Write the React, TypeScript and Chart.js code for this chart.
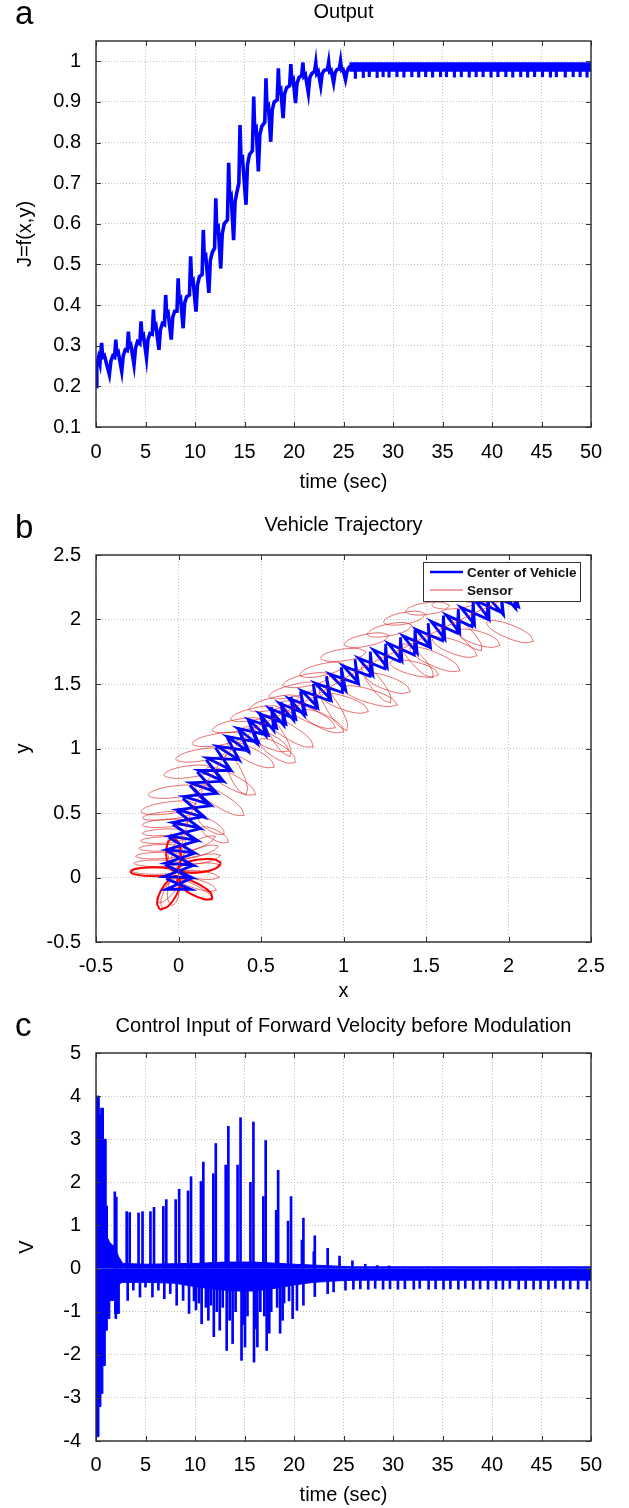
import React, { useEffect, useRef } from 'react';
import { Chart, registerables } from 'chart.js';

Chart.register(...registerables);

const FONT = '"Liberation Sans", Arial, Helvetica, sans-serif';
const BLUE = '#0000ff';

// ================= Panel a : Output =================
const aTime = [
  0, 0.08, 0.25, 0.4, 0.57,
  0.67, 0.85, 1.35, 1.5, 1.7, 1.88, 2.0,
  2.1, 2.25, 2.6, 2.75, 2.95, 3.15, 3.27,
  3.37, 3.52, 3.84, 3.99, 4.19, 4.43, 4.55,
  4.65, 4.8, 5.1, 5.25, 5.45, 5.68, 5.8,
  5.9, 6.05, 6.36, 6.51, 6.71, 6.92, 7.04,
  7.14, 7.29, 7.6, 7.75, 7.95, 8.18, 8.3,
  8.4, 8.55, 8.8, 8.95, 9.15, 9.44, 9.56,
  9.66, 9.81, 10.1, 10.25, 10.45, 10.72, 10.84,
  10.94, 11.09, 11.4, 11.55, 11.75, 11.98, 12.1,
  12.2, 12.35, 12.6, 12.75, 12.95, 13.28, 13.4,
  13.5, 13.65, 13.9, 14.05, 14.25, 14.43, 14.55,
  14.65, 14.8, 15.15, 15.3, 15.5, 15.8, 15.93,
  16.03, 16.18, 16.4, 16.55, 16.75, 17.05, 17.17,
  17.27, 17.42, 17.65, 17.8, 18.0, 18.3, 18.42,
  18.52, 18.67, 18.9, 19.05, 19.25, 19.56, 19.68,
  19.78, 19.93, 20.15, 20.3, 20.5, 20.78, 20.9,
  21.0, 21.15, 21.45, 21.6, 21.8, 22.08, 22.2,
  22.3, 22.45, 22.7, 22.85, 23.05, 23.38, 23.5,
  23.6, 23.75, 24.0, 24.15, 24.35, 24.58, 24.7,
  24.8, 24.95, 25.2, 25.35, 25.55, 25.8,
];
const aValue = [
  0.2, 0.25, 0.27, 0.255, 0.307,
  0.272, 0.276, 0.229, 0.262, 0.275, 0.272, 0.315,
  0.28, 0.284, 0.237, 0.275, 0.29, 0.288, 0.335,
  0.298, 0.302, 0.253, 0.294, 0.31, 0.305, 0.36,
  0.32, 0.325, 0.27, 0.315, 0.33, 0.328, 0.389,
  0.345, 0.35, 0.29, 0.34, 0.355, 0.352, 0.425,
  0.375, 0.38, 0.315, 0.37, 0.385, 0.385, 0.466,
  0.41, 0.415, 0.343, 0.405, 0.42, 0.425, 0.52,
  0.455, 0.46, 0.384, 0.45, 0.47, 0.475, 0.585,
  0.515, 0.52, 0.43, 0.51, 0.53, 0.54, 0.663,
  0.585, 0.59, 0.49, 0.575, 0.6, 0.61, 0.75,
  0.665, 0.67, 0.56, 0.655, 0.68, 0.7, 0.843,
  0.755, 0.76, 0.647, 0.745, 0.77, 0.78, 0.913,
  0.83, 0.835, 0.729, 0.82, 0.84, 0.85, 0.958,
  0.885, 0.89, 0.802, 0.88, 0.9, 0.905, 0.983,
  0.925, 0.93, 0.86, 0.92, 0.935, 0.94, 0.993,
  0.95, 0.955, 0.897, 0.945, 0.96, 0.965, 0.997,
  0.963, 0.967, 0.922, 0.96, 0.97, 0.975, 0.996,
  0.97, 0.975, 0.94, 0.97, 0.978, 0.98, 0.998,
  0.975, 0.978, 0.947, 0.972, 0.98, 0.982, 1.0,
  0.978, 0.98, 0.955, 0.975, 0.985, 0.99,
];
// steady-state band (upper / lower envelope) and its periodic dips
const aBandTime = [25.6, 50];
const aBandHigh = [0.996, 0.996];
const aBandLow = [0.976, 0.976];
const aDipTime = [
  26.2, 27.0, 27.6, 28.4, 29.0, 29.6, 30.4, 31.1, 31.9, 32.6,
  33.3, 34.0, 34.8, 35.4, 36.2, 36.9, 37.7, 38.4, 39.1, 39.9,
  40.6, 41.4, 42.1, 42.9, 43.6, 44.3, 45.1, 45.9, 46.5, 47.4,
  48.2, 48.9, 49.6,
];
const aDipValue = [
  0.958, 0.96, 0.962, 0.96, 0.962, 0.961, 0.962, 0.961, 0.962, 0.961,
  0.962, 0.961, 0.962, 0.962, 0.961, 0.962, 0.961, 0.962, 0.962, 0.961,
  0.962, 0.962, 0.961, 0.962, 0.961, 0.962, 0.962, 0.961, 0.962, 0.961,
  0.962, 0.962, 0.961,
];
const aXTicks = [0, 5, 10, 15, 20, 25, 30, 35, 40, 45, 50];
const aYTicks = [0.1, 0.2, 0.3, 0.4, 0.5, 0.6, 0.7, 0.8, 0.9, 1];

// ================= Panel b : Vehicle Trajectory =================
// centre-of-vehicle path (centre line and half-width of its star-shaped wiggle)
const bPathX = [0.0, 0.0, 0.01, 0.02, 0.04, 0.06, 0.09, 0.13, 0.17, 0.22, 0.27, 0.33, 0.39, 0.45, 0.51, 0.57, 0.63, 0.69, 0.75, 0.83, 0.91, 1.0, 1.08, 1.17, 1.26, 1.35, 1.44, 1.52, 1.61, 1.7, 1.79, 1.88, 1.96, 2.03];
const bPathY = [-0.05, 0.05, 0.15, 0.25, 0.35, 0.45, 0.54, 0.64, 0.74, 0.83, 0.92, 1.0, 1.07, 1.13, 1.19, 1.23, 1.27, 1.31, 1.35, 1.41, 1.47, 1.54, 1.6, 1.66, 1.72, 1.77, 1.83, 1.88, 1.94, 1.99, 2.05, 2.1, 2.15, 2.2];
const bPathHalf = [0.075, 0.085, 0.085, 0.085, 0.085, 0.085, 0.085, 0.085, 0.085, 0.085, 0.085, 0.085, 0.085, 0.085, 0.08, 0.08, 0.08, 0.08, 0.08, 0.08, 0.08, 0.08, 0.08, 0.08, 0.08, 0.08, 0.08, 0.08, 0.08, 0.08, 0.08, 0.085, 0.1, 0.1];

// sensor loops: centre, half-length, half-width, tilt (deg)
const sLoopX = [
  -0.14, -0.13, -0.12, -0.11, -0.10, -0.09, -0.08, -0.07,
  0.12, 0.13, 0.13, 0.13, 0.12, 0.11, 0.10, 0.20, 0.22,
  -0.05, -0.03, -0.06, -0.03, 0.0,
  -0.06, -0.02, 0.06, 0.14, 0.24, 0.36, 0.47, 0.58, 0.70, 0.78, 0.87, 1.0, 1.14, 1.28, 1.37, 1.51, 1.68, 1.85, 2.0,
  0.25, 0.32, 0.44, 0.53, 0.60, 0.67, 0.79, 0.875, 1.01, 1.16, 1.27, 1.43, 1.555, 1.675, 1.82, 2.01,
  0.35, 0.6, 0.94, 1.2, 1.45, 1.75,
];
const sLoopY = [
  0.05, 0.11, 0.17, 0.23, 0.29, 0.35, 0.42, 0.48,
  0.26, 0.2, 0.14, 0.08, 0.02, -0.05, -0.1, 0.4, 0.33,
  -0.12, -0.1, -0.1, 0.2, 0.2,
  0.54, 0.665, 0.82, 0.95, 1.07, 1.18, 1.27, 1.35, 1.45, 1.53, 1.61, 1.725, 1.84, 1.92, 2.01, 2.085, 2.13, 2.175, 2.2,
  0.6, 0.745, 0.95, 1.07, 0.98, 1.13, 1.26, 1.21, 1.35, 1.405, 1.505, 1.62, 1.69, 1.785, 1.855, 1.905,
  0.8, 1.1, 1.31, 1.5, 1.68, 1.88,
];
const sLoopA = [
  0.14, 0.14, 0.14, 0.13, 0.13, 0.13, 0.14, 0.15,
  0.12, 0.12, 0.13, 0.13, 0.13, 0.13, 0.13, 0.1, 0.1,
  0.13, 0.12, 0.12, 0.14, 0.13,
  0.17, 0.165, 0.15, 0.16, 0.16, 0.16, 0.16, 0.16, 0.16, 0.15, 0.14, 0.14, 0.14, 0.14, 0.13, 0.135, 0.145, 0.14, 0.14,
  0.19, 0.18, 0.17, 0.165, 0.14, 0.19, 0.19, 0.15, 0.155, 0.18, 0.15, 0.155, 0.175, 0.15, 0.14, 0.16,
  0.17, 0.18, 0.19, 0.17, 0.16, 0.15,
];
const sLoopB = [
  0.025, 0.025, 0.025, 0.025, 0.025, 0.025, 0.03, 0.03,
  0.03, 0.03, 0.03, 0.03, 0.03, 0.035, 0.035, 0.035, 0.035,
  0.04, 0.035, 0.035, 0.035, 0.035,
  0.045, 0.045, 0.045, 0.045, 0.045, 0.045, 0.045, 0.045, 0.045, 0.045, 0.045, 0.045, 0.045, 0.045, 0.045, 0.045, 0.045, 0.045, 0.045,
  0.05, 0.05, 0.05, 0.05, 0.05, 0.05, 0.05, 0.05, 0.05, 0.05, 0.05, 0.05, 0.05, 0.05, 0.05, 0.05,
  0.04, 0.04, 0.04, 0.04, 0.04, 0.04,
];
const sLoopAng = [
  0, 0, 2, 2, 3, 4, 5, 7,
  30, 22, 14, 5, -8, -22, -35, -40, -35,
  -110, -95, -125, 95, 80,
  10, 9, 10, 12, 12, 14, 16, 18, 18, 15, 17, 10, 15, 15, 14, 10, 8, 5, 5,
  -39, -35, -34, -33, -40, -39, -32, -33, -24, -22, -26, -18, -30, -26, -23, -28,
  -70, -65, -65, -60, -55, -55,
];
// the heavily over-drawn petals near the start point
const fLoopX = [-0.15, 0.13, 0.1, -0.06, -0.03];
const fLoopY = [0.045, 0.09, -0.09, -0.12, 0.18];
const fLoopA = [0.14, 0.13, 0.13, 0.14, 0.13];
const fLoopB = [0.035, 0.05, 0.045, 0.05, 0.045];
const fLoopAng = [0, 10, -35, -112, 92];
const bTicks = [-0.5, 0, 0.5, 1, 1.5, 2, 2.5];

// ================= Panel c : Control input =================
const cHighTime = [0, 0.3, 0.3, 0.47, 0.47, 0.74, 0.74, 1.0, 1.0, 1.15, 1.15, 1.4, 1.9, 2.3, 2.7, 5, 10, 13, 16, 20, 24, 26, 50];
const cHighValue = [4.0, 4.0, 3.57, 3.57, 3.72, 3.72, 3.0, 3.0, 1.45, 1.45, 0.72, 0.6, 0.5, 0.27, 0.12, 0.1, 0.12, 0.15, 0.15, 0.1, 0.06, 0.04, 0.04];
const cLowTime = [0, 0.3, 0.3, 0.5, 0.5, 0.7, 0.7, 0.94, 0.94, 1.15, 1.15, 1.4, 1.4, 1.9, 1.9, 2.35, 2.35, 2.7, 5, 8, 10, 12, 14, 16, 18, 20, 22, 24, 26, 50];
const cLowValue = [-3.9, -3.9, -3.2, -3.2, -2.9, -2.9, -2.25, -2.25, -1.43, -1.43, -1.16, -1.16, -0.74, -0.74, -1.04, -1.04, -0.35, -0.32, -0.32, -0.34, -0.42, -0.48, -0.52, -0.52, -0.46, -0.38, -0.32, -0.29, -0.27, -0.27];
const cPosTime = [
  1.9, 2.05, 3.1, 3.4, 4.3, 4.7, 5.5, 5.86, 6.8, 7.1,
  8.05, 8.4, 9.3, 9.6, 10.6, 10.84, 11.85, 12.1, 13.1, 13.37,
  14.3, 14.6, 15.6, 15.9, 16.9, 17.14, 18.2, 18.4, 19.4, 19.7,
  20.8, 20.95, 22.0, 22.1, 23.4, 24.6, 25.9, 27.2, 28.4, 29.6,
];
const cPosValue = [
  1.78, 1.66, 1.32, 1.3, 1.29, 1.32, 1.32, 1.42, 1.44, 1.6,
  1.6, 1.84, 1.8, 2.13, 2.02, 2.47, 2.2, 2.9, 2.4, 3.3,
  2.4, 3.5, 2.0, 3.4, 1.67, 2.97, 1.35, 2.28, 1.1, 1.67,
  0.66, 1.17, 0.39, 0.76, 0.47, 0.29, 0.18, 0.1, 0.07, 0.06,
];
const cNegTime = [
  2.0, 2.25, 3.2, 3.77, 4.44, 5.0, 5.7, 6.3, 6.9, 7.5,
  8.15, 8.8, 9.4, 9.9, 10.1, 10.4, 10.67, 11.1, 11.35, 11.6,
  11.9, 12.2, 12.5, 12.8, 13.2, 13.5, 13.8, 14.1, 14.7, 14.9,
  15.05, 15.3, 15.96, 16.1, 16.3, 16.6, 17.0, 17.24, 17.5, 17.7,
  18.3, 18.6, 18.85, 19.0, 19.5, 19.86, 20.3, 20.95, 22.1, 23.4,
  24.0,
];
const cNegValue = [
  -1.16, -1.04, -0.74, -0.5, -0.66, -0.43, -0.66, -0.5, -0.7, -0.58,
  -0.85, -0.74, -1.04, -0.75, -0.96, -0.8, -1.28, -0.9, -1.2, -0.85,
  -1.58, -1.0, -1.43, -0.9, -1.9, -1.2, -1.74, -1.0, -2.13, -1.3,
  -1.82, -1.1, -2.17, -1.4, -1.82, -1.0, -1.1, -1.9, -1.5, -1.0,
  -0.9, -1.5, -1.2, -0.8, -0.75, -1.16, -0.97, -0.85, -0.65, -0.58,
  -0.54,
];
const cDipTime = [
  25.2, 26.0, 26.7, 27.5, 28.2, 29.0, 29.7, 30.5, 31.2, 32.1,
  32.7, 33.6, 34.3, 35.1, 35.8, 36.6, 37.3, 38.1, 38.8, 39.6,
  40.4, 41.1, 41.8, 42.7, 43.4, 44.2, 44.9, 45.7, 46.4, 47.2,
  47.9, 48.7, 49.6,
];
const cDipValue = [
  -0.5, -0.48, -0.47, -0.48, -0.46, -0.48, -0.47, -0.48, -0.47, -0.48,
  -0.46, -0.48, -0.47, -0.48, -0.47, -0.48, -0.46, -0.48, -0.47, -0.48,
  -0.47, -0.48, -0.46, -0.48, -0.47, -0.48, -0.47, -0.48, -0.46, -0.48,
  -0.47, -0.48, -0.47,
];
const cXTicks = [0, 5, 10, 15, 20, 25, 30, 35, 40, 45, 50];
const cYTicks = [-4, -3, -2, -1, 0, 1, 2, 3, 4, 5];

// ================= helpers =================
const fmt = (v: number) => String(Math.round(v * 100) / 100);
const pts = (xs: number[], ys: number[]) => xs.map((x, i) => ({ x, y: ys[i] }));

// star-like wiggle of the vehicle centre around its read centre line
function starPath(cx: number[], cy: number[], half: number[]) {
  const n = cx.length;
  const out: { x: number; y: number }[] = [];
  for (let i = 0; i < n; i++) {
    const i0 = Math.max(0, i - 1);
    const i1 = Math.min(n - 1, i + 1);
    const dx = cx[i1] - cx[i0];
    const dy = cy[i1] - cy[i0];
    const L = Math.hypot(dx, dy) || 1;
    const tx = dx / L, ty = dy / L;
    const nx = -ty, ny = tx;
    const h = half[i];
    const s = 0.55 * h;
    out.push(
      { x: cx[i] + nx * h + tx * s, y: cy[i] + ny * h + ty * s },
      { x: cx[i] - nx * h - tx * s, y: cy[i] - ny * h - ty * s },
      { x: cx[i] + nx * h - tx * s, y: cy[i] + ny * h - ty * s },
      { x: cx[i] - nx * h + tx * s, y: cy[i] - ny * h + ty * s },
    );
  }
  return out;
}

// closed elliptic loop (8 nodes, smoothed by the line tension)
const C45 = Math.SQRT1_2;
const UNIT = [[1, 0], [C45, C45], [0, 1], [-C45, C45], [-1, 0], [-C45, -C45], [0, -1], [C45, -C45], [1, 0]];
function loop(cx: number, cy: number, a: number, b: number, angDeg: number) {
  const r = (angDeg * Math.PI) / 180;
  const ux = Math.cos(r), uy = Math.sin(r);
  return UNIT.map(([p, q]) => ({ x: cx + ux * a * p - uy * b * q, y: cy + uy * a * p + ux * b * q }));
}

type Spec = {
  xMin: number; xMax: number; xTicks: number[];
  yMin: number; yMax: number; yTicks: number[];
  xTitle: string; yTitle: string;
  plotTop: number; xAxisH: number; xTickPad: number; xTitlePadBottom: number; yTitlePadTop: number;
};

function axis(p: Spec, which: 'x' | 'y'): any {
  const isX = which === 'x';
  const ticks = isX ? p.xTicks : p.yTicks;
  return {
    type: 'linear',
    min: isX ? p.xMin : p.yMin,
    max: isX ? p.xMax : p.yMax,
    offset: false,
    grid: { color: '#c2c2c2', lineWidth: 1, drawTicks: false, offset: false },
    border: { display: false, dash: [1, 2] },
    afterBuildTicks: (s: any) => { s.ticks = ticks.map((v) => ({ value: v })); },
    afterFit: (s: any) => { if (isX) s.height = p.xAxisH; else s.width = 96; },
    ticks: {
      padding: isX ? p.xTickPad : 15,
      color: '#000',
      font: { family: FONT, size: 20 },
      maxRotation: 0,
      autoSkip: false,
      callback: (v: any) => fmt(Number(v)),
    },
    title: {
      display: true,
      text: isX ? p.xTitle : p.yTitle,
      color: '#000',
      font: { family: FONT, size: 20 },
      padding: isX ? { top: 0, bottom: p.xTitlePadBottom } : { top: p.yTitlePadTop, bottom: 0 },
    },
  };
}

function options(p: Spec): any {
  return {
    responsive: false,
    maintainAspectRatio: false,
    animation: false,
    devicePixelRatio: 1,
    events: [],
    layout: { padding: { top: p.plotTop, right: 38, bottom: 0, left: 0 } },
    plugins: { legend: { display: false }, tooltip: { enabled: false }, title: { display: false } },
    scales: { x: axis(p, 'x'), y: axis(p, 'y') },
  };
}

function framePlugin(title: string, titleOffset: number) {
  return {
    id: 'frameAndTitle',
    afterDraw(chart: any) {
      const { ctx, chartArea: ca, scales } = chart;
      ctx.save();
      ctx.strokeStyle = '#333';
      ctx.lineWidth = 1;
      ctx.beginPath();
      scales.x.ticks.forEach((t: any) => {
        const px = Math.round(scales.x.getPixelForValue(t.value)) + 0.5;
        ctx.moveTo(px, ca.bottom); ctx.lineTo(px, ca.bottom - 5);
        ctx.moveTo(px, ca.top); ctx.lineTo(px, ca.top + 5);
      });
      scales.y.ticks.forEach((t: any) => {
        const py = Math.round(scales.y.getPixelForValue(t.value)) + 0.5;
        ctx.moveTo(ca.left, py); ctx.lineTo(ca.left + 5, py);
        ctx.moveTo(ca.right, py); ctx.lineTo(ca.right - 5, py);
      });
      ctx.stroke();
      ctx.lineWidth = 1.4;
      ctx.strokeStyle = '#2a2a2a';
      ctx.strokeRect(ca.left, ca.top, ca.right - ca.left, ca.bottom - ca.top);
      ctx.fillStyle = '#000';
      ctx.font = `20px ${FONT}`;
      ctx.textAlign = 'center';
      ctx.textBaseline = 'middle';
      ctx.fillText(title, (ca.left + ca.right) / 2, ca.top - titleOffset);
      ctx.restore();
    },
  };
}

const legendPlugin = {
  id: 'boxLegend',
  afterDraw(chart: any) {
    const { ctx, chartArea: ca } = chart;
    const w = 157;
    const h = 39;
    const x0 = ca.right - 11 - w;
    const y0 = ca.top + 7;
    ctx.save();
    ctx.fillStyle = '#fff';
    ctx.fillRect(x0, y0, w, h);
    ctx.strokeStyle = '#333';
    ctx.lineWidth = 1;
    ctx.strokeRect(x0 + 0.5, y0 + 0.5, w, h);
    ctx.lineWidth = 2.5;
    ctx.strokeStyle = BLUE;
    ctx.beginPath(); ctx.moveTo(x0 + 7, y0 + 10); ctx.lineTo(x0 + 40, y0 + 10); ctx.stroke();
    ctx.lineWidth = 1;
    ctx.strokeStyle = 'rgba(220,30,30,0.85)';
    ctx.beginPath(); ctx.moveTo(x0 + 7, y0 + 28); ctx.lineTo(x0 + 40, y0 + 28); ctx.stroke();
    ctx.fillStyle = '#111';
    ctx.font = `bold 13.5px ${FONT}`;
    ctx.textAlign = 'left';
    ctx.textBaseline = 'middle';
    ctx.fillText('Center of Vehicle', x0 + 44, y0 + 11);
    ctx.fillText('Sensor', x0 + 44, y0 + 29);
    ctx.restore();
  },
};

function configA(): any {
  const spec: Spec = {
    xMin: 0, xMax: 50, xTicks: aXTicks, yMin: 0.1, yMax: 1.05, yTicks: aYTicks,
    xTitle: 'time (sec)', yTitle: 'J=f(x,y)',
    plotTop: 41, xAxisH: 73, xTickPad: 13.5, xTitlePadBottom: 5.5, yTitlePadTop: 13,
  };
  return {
    type: 'line',
    data: {
      datasets: [
        { type: 'line', label: 'J', data: pts(aTime, aValue), borderColor: BLUE, borderWidth: 3.6, pointRadius: 0, tension: 0, fill: false },
        { type: 'line', label: 'band high', data: pts(aBandTime, aBandHigh), borderColor: BLUE, backgroundColor: BLUE, borderWidth: 1.5, pointRadius: 0, fill: { value: 0.986 } },
        { type: 'line', label: 'band low', data: pts(aBandTime, aBandLow), borderColor: BLUE, backgroundColor: BLUE, borderWidth: 1.5, pointRadius: 0, fill: { value: 0.986 } },
        { type: 'bar', label: 'dips', data: aDipTime.map((t, i) => ({ x: t, y: [0.978, aDipValue[i]] })), backgroundColor: BLUE, borderWidth: 0, barThickness: 2.5, grouped: false },
      ],
    },
    options: options(spec),
    plugins: [framePlugin('Output', 28.3)],
  };
}

function configB(): any {
  const spec: Spec = {
    xMin: -0.5, xMax: 2.5, xTicks: bTicks, yMin: -0.5, yMax: 2.5, yTicks: bTicks,
    xTitle: 'x', yTitle: 'y',
    plotTop: 55, xAxisH: 58, xTickPad: 12.7, xTitlePadBottom: -3, yTitlePadTop: 11,
  };
  const thin = 'rgba(220,30,30,0.8)';
  const datasets: any[] = [
    { label: 'Sensor track', data: pts(bPathX, bPathY), borderColor: thin, borderWidth: 0.8, pointRadius: 0, fill: false },
    { label: 'Center of Vehicle', data: starPath(bPathX, bPathY, bPathHalf), borderColor: BLUE, borderWidth: 2.8, pointRadius: 0, tension: 0, fill: false },
  ];
  fLoopX.forEach((x, i) => {
    datasets.push({ label: 'Sensor', data: loop(x, fLoopY[i], fLoopA[i], fLoopB[i], fLoopAng[i]), borderColor: '#ff0000', borderWidth: 2, pointRadius: 0, tension: 0.38, fill: false });
  });
  sLoopX.forEach((x, i) => {
    datasets.push({ label: 'Sensor', data: loop(x, sLoopY[i], sLoopA[i], sLoopB[i], sLoopAng[i]), borderColor: thin, borderWidth: 0.8, pointRadius: 0, tension: 0.38, fill: false });
  });
  return {
    type: 'line',
    data: { datasets },
    options: options(spec),
    plugins: [framePlugin('Vehicle Trajectory', 29.3), legendPlugin],
  };
}

function configC(): any {
  const spec: Spec = {
    xMin: 0, xMax: 50, xTicks: cXTicks, yMin: -4, yMax: 5, yTicks: cYTicks,
    xTitle: 'time (sec)', yTitle: 'V',
    plotTop: 53, xAxisH: 67, xTickPad: 12, xTitlePadBottom: 1, yTitlePadTop: 15,
  };
  const bar = (t: number[], v: number[], label: string) => ({
    type: 'bar', label, data: t.map((x, i) => ({ x, y: [0, v[i]] })), backgroundColor: BLUE, borderWidth: 0, barThickness: 2, grouped: false,
  });
  return {
    type: 'line',
    data: {
      datasets: [
        { type: 'line', label: 'high', data: pts(cHighTime, cHighValue), borderColor: BLUE, backgroundColor: BLUE, borderWidth: 1, pointRadius: 0, fill: 'origin' },
        { type: 'line', label: 'low', data: pts(cLowTime, cLowValue), borderColor: BLUE, backgroundColor: BLUE, borderWidth: 1, pointRadius: 0, fill: 'origin' },
        bar(cPosTime, cPosValue, 'pos'),
        bar(cNegTime, cNegValue, 'neg'),
        bar(cDipTime, cDipValue, 'dip'),
      ],
    },
    options: options(spec),
    plugins: [framePlugin('Control Input of Forward Velocity before Modulation', 26.3)],
  };
}

const letterStyle = (top: number): React.CSSProperties => ({
  position: 'absolute', left: 15, top, fontFamily: FONT, fontSize: 33, lineHeight: '33px', color: '#000', margin: 0,
});

export default function App() {
  const refA = useRef<HTMLCanvasElement>(null);
  const refB = useRef<HTMLCanvasElement>(null);
  const refC = useRef<HTMLCanvasElement>(null);

  useEffect(() => {
    const charts = [
      new Chart(refA.current as HTMLCanvasElement, configA()),
      new Chart(refB.current as HTMLCanvasElement, configB()),
      new Chart(refC.current as HTMLCanvasElement, configC()),
    ];
    return () => charts.forEach((c) => c.destroy());
  }, []);

  return (
    <div style={{ position: 'absolute', left: 0, top: 0, width: 629, height: 1508, background: '#fff', overflow: 'hidden' }}>
      <canvas ref={refA} width={629} height={500} style={{ position: 'absolute', left: 0, top: 0, width: 629, height: 500 }} />
      <canvas ref={refB} width={629} height={500} style={{ position: 'absolute', left: 0, top: 500, width: 629, height: 500 }} />
      <canvas ref={refC} width={629} height={508} style={{ position: 'absolute', left: 0, top: 1000, width: 629, height: 508 }} />
      <div style={letterStyle(-4)}>a</div>
      <div style={letterStyle(510)}>b</div>
      <div style={letterStyle(1008)}>c</div>
    </div>
  );
}
